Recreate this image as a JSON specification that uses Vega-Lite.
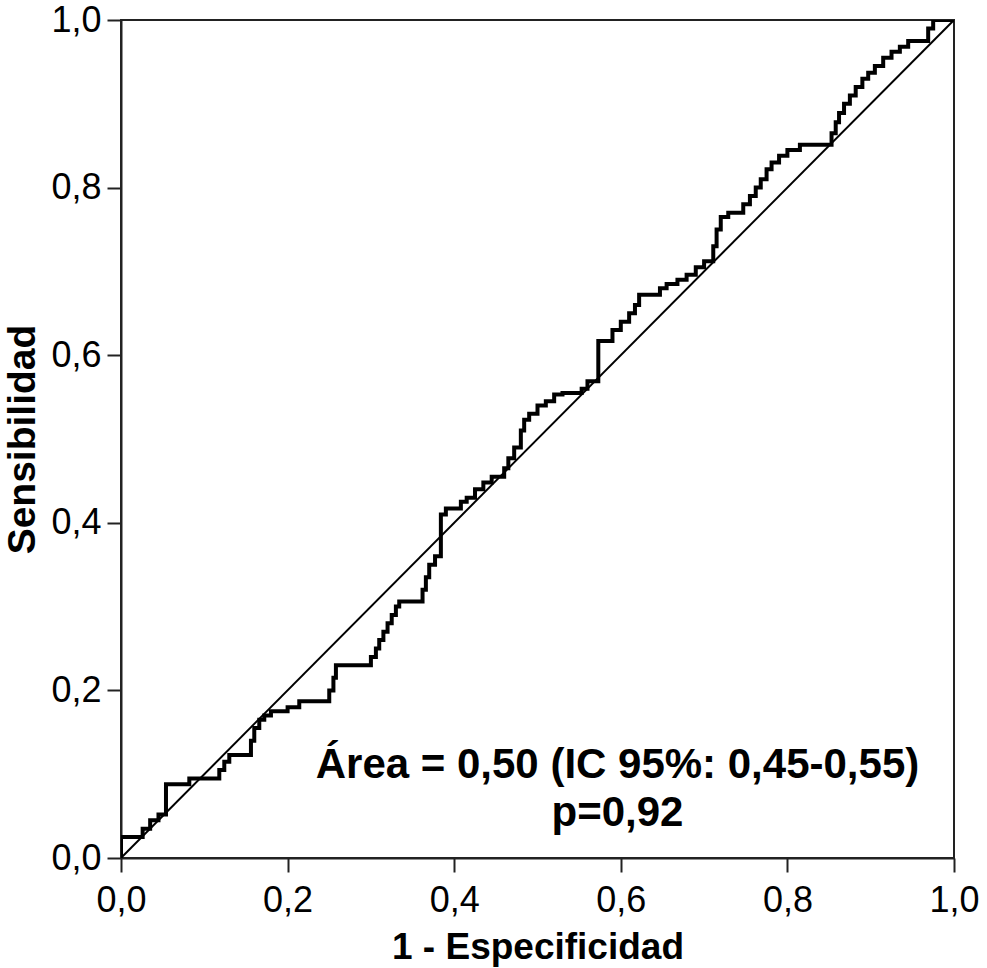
{
  "$schema": "https://vega.github.io/schema/vega-lite/v6.json",
  "width": 833,
  "height": 838,
  "autosize": "none",
  "padding": {"left": 121, "top": 20, "right": 33, "bottom": 110},
  "background": "white",
  "config": {
    "view": {"stroke": "#222", "strokeWidth": 2},
    "axis": {
      "grid": false,
      "domainColor": "#222",
      "domainWidth": 2,
      "tickColor": "#222",
      "tickWidth": 2,
      "tickSize": 14,
      "labelFont": "Liberation Sans",
      "labelFontSize": 36,
      "labelColor": "black",
      "titleFont": "Liberation Sans",
      "titleFontWeight": "bold",
      "titleColor": "black"
    }
  },
  "datasets": {
    "roc": [
      {"fpr": 0, "tpr": 0}, {"fpr": 0.026, "tpr": 0.025}, {"fpr": 0.035, "tpr": 0.035}, {"fpr": 0.045, "tpr": 0.045},
      {"fpr": 0.054, "tpr": 0.052}, {"fpr": 0.082, "tpr": 0.088}, {"fpr": 0.118, "tpr": 0.095}, {"fpr": 0.124, "tpr": 0.105},
      {"fpr": 0.13, "tpr": 0.115}, {"fpr": 0.156, "tpr": 0.123}, {"fpr": 0.16, "tpr": 0.14}, {"fpr": 0.166, "tpr": 0.155},
      {"fpr": 0.172, "tpr": 0.165}, {"fpr": 0.18, "tpr": 0.17}, {"fpr": 0.2, "tpr": 0.175}, {"fpr": 0.214, "tpr": 0.18},
      {"fpr": 0.25, "tpr": 0.187}, {"fpr": 0.255, "tpr": 0.2}, {"fpr": 0.258, "tpr": 0.215}, {"fpr": 0.3, "tpr": 0.23},
      {"fpr": 0.306, "tpr": 0.24}, {"fpr": 0.31, "tpr": 0.25}, {"fpr": 0.315, "tpr": 0.26}, {"fpr": 0.32, "tpr": 0.27},
      {"fpr": 0.325, "tpr": 0.28}, {"fpr": 0.33, "tpr": 0.29}, {"fpr": 0.334, "tpr": 0.3}, {"fpr": 0.362, "tpr": 0.306},
      {"fpr": 0.366, "tpr": 0.32}, {"fpr": 0.37, "tpr": 0.335}, {"fpr": 0.377, "tpr": 0.35}, {"fpr": 0.384, "tpr": 0.36},
      {"fpr": 0.39, "tpr": 0.41}, {"fpr": 0.408, "tpr": 0.417}, {"fpr": 0.415, "tpr": 0.425}, {"fpr": 0.425, "tpr": 0.43},
      {"fpr": 0.435, "tpr": 0.44}, {"fpr": 0.445, "tpr": 0.448}, {"fpr": 0.46, "tpr": 0.455}, {"fpr": 0.465, "tpr": 0.465},
      {"fpr": 0.472, "tpr": 0.477}, {"fpr": 0.48, "tpr": 0.49}, {"fpr": 0.484, "tpr": 0.51}, {"fpr": 0.49, "tpr": 0.523},
      {"fpr": 0.5, "tpr": 0.53}, {"fpr": 0.51, "tpr": 0.54}, {"fpr": 0.52, "tpr": 0.545}, {"fpr": 0.53, "tpr": 0.553},
      {"fpr": 0.553, "tpr": 0.555}, {"fpr": 0.56, "tpr": 0.56}, {"fpr": 0.573, "tpr": 0.569}, {"fpr": 0.59, "tpr": 0.617},
      {"fpr": 0.6, "tpr": 0.63}, {"fpr": 0.61, "tpr": 0.64}, {"fpr": 0.617, "tpr": 0.65}, {"fpr": 0.622, "tpr": 0.66},
      {"fpr": 0.647, "tpr": 0.672}, {"fpr": 0.655, "tpr": 0.68}, {"fpr": 0.668, "tpr": 0.685}, {"fpr": 0.679, "tpr": 0.69},
      {"fpr": 0.69, "tpr": 0.696}, {"fpr": 0.7, "tpr": 0.705}, {"fpr": 0.711, "tpr": 0.712}, {"fpr": 0.715, "tpr": 0.73},
      {"fpr": 0.72, "tpr": 0.75}, {"fpr": 0.729, "tpr": 0.765}, {"fpr": 0.747, "tpr": 0.77}, {"fpr": 0.755, "tpr": 0.78},
      {"fpr": 0.762, "tpr": 0.79}, {"fpr": 0.768, "tpr": 0.8}, {"fpr": 0.775, "tpr": 0.81}, {"fpr": 0.781, "tpr": 0.822},
      {"fpr": 0.79, "tpr": 0.83}, {"fpr": 0.8, "tpr": 0.838}, {"fpr": 0.815, "tpr": 0.845}, {"fpr": 0.853, "tpr": 0.851},
      {"fpr": 0.858, "tpr": 0.865}, {"fpr": 0.862, "tpr": 0.878}, {"fpr": 0.868, "tpr": 0.889}, {"fpr": 0.875, "tpr": 0.9},
      {"fpr": 0.882, "tpr": 0.91}, {"fpr": 0.89, "tpr": 0.92}, {"fpr": 0.897, "tpr": 0.93}, {"fpr": 0.905, "tpr": 0.937},
      {"fpr": 0.915, "tpr": 0.945}, {"fpr": 0.925, "tpr": 0.955}, {"fpr": 0.935, "tpr": 0.962}, {"fpr": 0.945, "tpr": 0.968},
      {"fpr": 0.969, "tpr": 0.975}, {"fpr": 0.975, "tpr": 0.99}, {"fpr": 0.98, "tpr": 1.0}, {"fpr": 1, "tpr": 1}
    ],
    "diag": [{"fpr": 0, "tpr": 0}, {"fpr": 1, "tpr": 1}],
    "notes": [
      {"fpr": 0.596, "tpr": 0.0955, "label": "Área = 0,50 (IC 95%: 0,45-0,55)"},
      {"fpr": 0.596, "tpr": 0.038, "label": "p=0,92"}
    ]
  },
  "encoding": {
    "x": {
      "field": "fpr", "type": "quantitative",
      "scale": {"domain": [0, 1], "nice": false, "zero": false},
      "axis": {"values": [0, 0.2, 0.4, 0.6, 0.8, 1], "labelExpr": "replace(format(datum.value, '.1f'), '.', ',')", "title": "1 - Especificidad", "titleFontSize": 37, "labelPadding": 11, "titlePadding": 11, "labelFlush": false}
    },
    "y": {
      "field": "tpr", "type": "quantitative",
      "scale": {"domain": [0, 1], "nice": false, "zero": false},
      "axis": {"values": [0, 0.2, 0.4, 0.6, 0.8, 1], "labelExpr": "replace(format(datum.value, '.1f'), '.', ',')", "title": "Sensibilidad", "titleFontSize": 39, "labelPadding": 6, "titlePadding": 8, "labelFlush": false}
    }
  },
  "layer": [
    {
      "data": {"name": "diag"},
      "mark": {"type": "line", "color": "black", "strokeWidth": 2, "clip": true}
    },
    {
      "data": {"name": "roc"},
      "mark": {"type": "line", "color": "black", "strokeWidth": 4, "interpolate": "step-before", "strokeJoin": "miter", "clip": true}
    },
    {
      "data": {"name": "notes"},
      "mark": {"type": "text", "font": "Liberation Sans", "fontWeight": "bold", "fontSize": 42, "color": "black", "align": "center", "baseline": "alphabetic"},
      "encoding": {"text": {"field": "label"}}
    }
  ]
}
